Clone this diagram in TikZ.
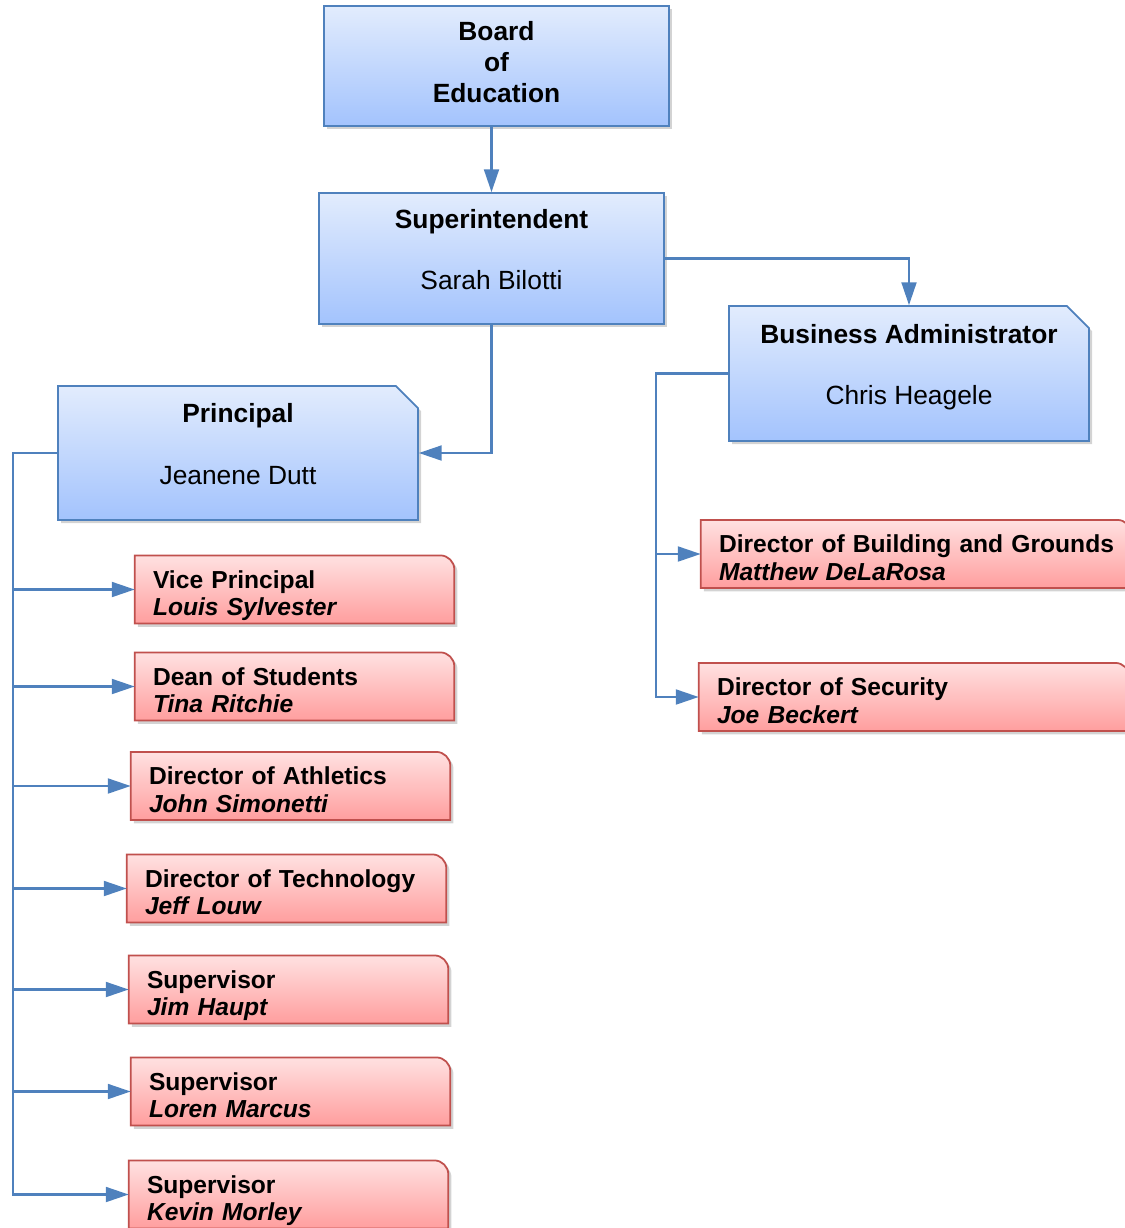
\documentclass[tikz,border=0pt]{standalone}
\usepackage{fontspec}
\setmainfont{Liberation Sans}
\usetikzlibrary{arrows.meta,shapes.misc,shadows,backgrounds}

\begin{document}
\begin{tikzpicture}[x=0.02cm,y=-0.02cm,
  >={Triangle[length=13pt,width=8.5pt]},
  shd/.style={drop shadow={shadow xshift=1.8pt,shadow yshift=-1.8pt,fill=black!50,opacity=0.35}},
  bb/.style={rectangle,draw=cline,line width=1pt,top color=ctop,bottom color=cbot,shd,
             align=center,inner sep=0pt,text height=35.5pt,text depth=0pt,
             font=\fontsize{15}{35}\selectfont},
  cb/.style={bb,chamfered rectangle,chamfered rectangle corners=north east,
             chamfered rectangle xsep=0.22cm,chamfered rectangle ysep=0.22cm},
  rb/.style={rectangle,minimum height=1.35cm,inner xsep=0.36cm,inner ysep=0pt,text width=#1,
             text height=10pt,text depth=11.7pt,align=left,
             font=\fontsize{14}{15.9}\selectfont\bfseries},
  rb/.default=5.66cm,
  rpath/.style={draw=rline,line width=1pt,top color=rtop,bottom color=rbot,shd},
  link/.style={->,line width=1.2pt,draw=cline},
]
  \definecolor{cline}{HTML}{4F81BD}
  \definecolor{ctop}{HTML}{E2ECFD}
  \definecolor{cbot}{HTML}{A3C3FD}
  \definecolor{rline}{HTML}{C0504D}
  \definecolor{rtop}{HTML}{FFE1E1}
  \definecolor{rbot}{HTML}{FF9E9E}

  \useasboundingbox (0,0) rectangle (1125,1228);

  % top of the chart
  \node[bb,minimum width=6.9cm,minimum height=2.4cm,text height=41.4pt,
        font=\fontsize{15}{17.6}\selectfont\bfseries]
    (board) at (496.5,66) {Board\\of\\Education};
  \node[bb,minimum width=6.9cm,minimum height=2.62cm] (supt) at (491.5,258.5)
    {\textbf{Superintendent}\\Sarah Bilotti};
  \node[cb,minimum width=7.2cm,minimum height=2.7cm] (ba) at (909,373.5)
    {\textbf{Business Administrator}\\Chris Heagele};
  \node[cb,minimum width=7.2cm,minimum height=2.68cm] (prin) at (238,453)
    {\textbf{Principal}\\Jeanene Dutt};

  % staff under the principal
  \node[rb] (vp) at (294.5,589.5) {Vice Principal\\\textit{Louis Sylvester}};
  \node[rb] (dean) at (294.5,686.5) {Dean of Students\\\textit{Tina Ritchie}};
  \node[rb] (ath) at (290.5,786) {Director of Athletics\\\textit{John Simonetti}};
  \node[rb] (tech) at (286.5,888.5) {Director of Technology\\\textit{Jeff Louw}};
  \node[rb] (jim) at (288.5,989.5) {Supervisor\\\textit{Jim Haupt}};
  \node[rb] (loren) at (290.5,1091.5) {Supervisor\\\textit{Loren Marcus}};
  \node[rb] (kevin) at (288.5,1194.5) {Supervisor\\\textit{Kevin Morley}};
  % staff under the business administrator
  \node[rb=7.88cm] (bldg) at (916,554) {\mbox{Director of Building and Grounds}\\\textit{Matthew DeLaRosa}};
  \node[rb=7.88cm] (sec) at (914,697) {Director of Security\\\textit{Joe Beckert}};

  % red boxes, one rounded corner
  \begin{scope}[on background layer]
    \foreach \n in {vp,dean,ath,tech,jim,loren,kevin,bldg,sec}
      \draw[rpath] (\n.south west) -- (\n.north west) -- ([xshift=-8pt]\n.north east)
        arc[start angle=90,end angle=0,radius=8pt] -- (\n.south east) -- cycle;
  \end{scope}

  % links
  \draw[link] (supt.north |- board.south) -- (supt.north);
  \draw[link] (supt.east) -| (ba.north);
  \draw[link] (supt.south) |- (prin.east);
  \foreach \n in {vp,dean,ath,tech,jim,loren,kevin}
    \draw[link] (prin.west) -- ++(-44,0) |- (\n.west);
  \foreach \n in {bldg,sec}
    \draw[link] (ba.west) -- ++(-72,0) |- (\n.west);
\end{tikzpicture}
\end{document}
